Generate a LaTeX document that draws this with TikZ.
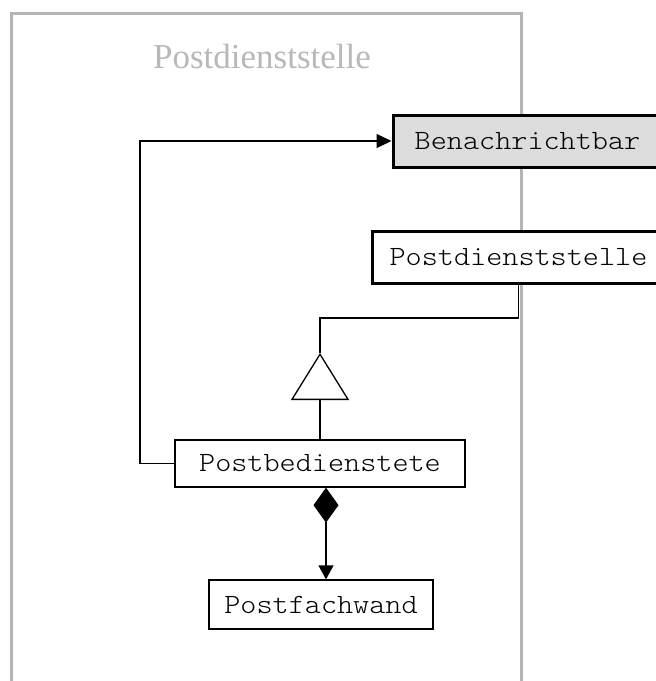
\documentclass[tikz,border=0pt]{standalone}
\usepackage{fontspec}
\setmainfont{Liberation Serif}
\setmonofont{lmmonolt10-regular}[Extension=.otf, FakeStretch=1.1]
\usetikzlibrary{arrows.meta,calc}
\definecolor{framegray}{RGB}{180,180,180}
\definecolor{titlegray}{RGB}{184,184,184}
\definecolor{ifacefill}{RGB}{220,220,220}
\tikzset{
  classbox/.style={draw=black, line width=1.3pt, fill=white, inner sep=0pt,
    font=\ttfamily\fontsize{27.9}{30}\selectfont, anchor=center},
  strongbox/.style={classbox, line width=3pt},
  link/.style={draw=black, line width=1.3pt},
  openhead/.style={-{Triangle[open, length=47pt, width=58pt, line width=1.3pt]}},
  filledhead/.style={-{Triangle[length=15pt, width=14pt]}}
}
\begin{document}
\begin{tikzpicture}[x=1pt, y=-1pt]
  \useasboundingbox (0,0) rectangle (656,681);
  \clip (0,0) rectangle (656,681);

  % package frame, open towards the bottom
  \draw[framegray, line width=3pt] (11,700) -- (11,13) -- (521,13) -- (521,700);
  \node[text=titlegray, font=\fontsize{35}{40}\selectfont, anchor=base]
    (title) at (262,68) {Postdienststelle};

  % classes
  \node[strongbox, fill=ifacefill, minimum width=269pt, minimum height=52pt]
    (bena) at (527.5,141) {Benachrichtbar};
  \node[strongbox, minimum width=293pt, minimum height=52pt]
    (pdst) at (518.5,257) {Postdienststelle};
  \node[classbox, minimum width=290pt, minimum height=47pt]
    (pbed) at (320,463.5) {Postbedienstete};
  \node[classbox, minimum width=224pt, minimum height=49pt]
    (pfw) at (321,604.5) {Postfachwand};

  % generalisation
  \coordinate (genapex) at (320,353);
  \coordinate (genbend) at (320,318);
  \draw[link, openhead] (pbed.north) -- (genapex);
  \draw[link] (genapex) -- (genbend) -| (pdst.south);

  % dependency on the interface
  \coordinate (depbend) at (140,463.5);
  \draw[link, filledhead] (pbed.west) -- (depbend) |- (bena.west);

  % composition
  \draw[link, {Diamond[length=35pt, width=25pt]}-{Triangle[length=14pt, width=15pt]}]
    ($(pbed.south)+(6,0)$) -- ($(pfw.north)+(5,0)$);
\end{tikzpicture}
\end{document}
